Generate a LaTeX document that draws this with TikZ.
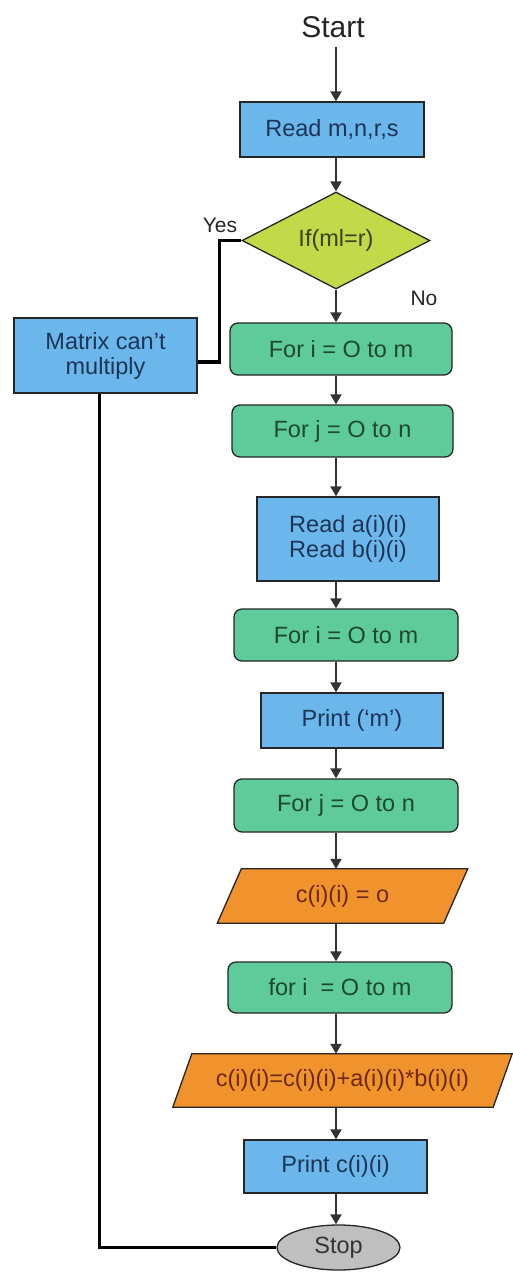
\documentclass[tikz,border=0pt]{standalone}
\usepackage{fontspec}
\setmainfont{Liberation Sans}
\usetikzlibrary{shapes.geometric,arrows.meta,backgrounds}
\definecolor{bluef}{HTML}{6BB6EA}
\definecolor{bluet}{HTML}{1C3557}
\definecolor{greenf}{HTML}{5FCB9B}
\definecolor{greent}{HTML}{1D4A2C}
\definecolor{yelf}{HTML}{C2D94A}
\definecolor{yelt}{HTML}{3A4212}
\definecolor{orf}{HTML}{F1932D}
\definecolor{ort}{HTML}{6E2A0E}
\definecolor{grayf}{HTML}{BFBFBF}
\begin{document}
\begin{tikzpicture}[x=1pt,y=-1pt,
  basebox/.style={draw=black!85, line width=1.3pt, inner sep=0pt, align=center,
    font=\fontsize{23.5}{25}\selectfont},
  procbox/.style={basebox, rectangle, fill=bluef, text=bluet},
  loopbox/.style={basebox, rectangle, rounded corners=8pt, fill=greenf, text=greent},
  decbox/.style={basebox, diamond, fill=yelf, text=yelt},
  iobox/.style={inner sep=0pt, align=center, text=ort,
    font=\fontsize{23.5}{25}\selectfont},
  iofill/.style={draw=black!85, line width=1.3pt, fill=orf},
  termbox/.style={basebox, ellipse, fill=grayf, text=black!80},
  lbl/.style={inner sep=0pt, text=black!85, font=\fontsize{21}{23}\selectfont},
  arr/.style={draw=black!80, line width=2pt, -{Triangle[length=10pt,width=11pt]}},
  link/.style={draw=black, line width=3.5pt}
]
\useasboundingbox (0,0) rectangle (513,1272);
\coordinate (ax) at (336,0);
\coordinate (vx) at (99.5,0);

\node[inner sep=0pt, font=\fontsize{30}{32}\selectfont, text=black!85] (start) at (333,27) {Start};
\node[procbox, minimum width=184pt, minimum height=55pt] (read) at (332,129.5) {Read m,n,r,s};
\node[decbox, minimum width=188pt, minimum height=93pt] (dec) at (336,240.5) {If(ml=r)};
\node[lbl] (yes) at (220,225) {Yes};
\node[lbl] (no) at (424,298) {No};
\node[procbox, minimum width=183pt, minimum height=75pt] (mat) at (105.5,355.5) {Matrix can't\\multiply};
\node[loopbox, minimum width=222pt, minimum height=52pt] (fi1) at (341,349) {For i = O to m};
\node[loopbox, minimum width=221pt, minimum height=52pt] (fj1) at (342.5,431) {For j = O to n};
\node[procbox, minimum width=182pt, minimum height=84pt] (rab) at (348,539) {Read a(i)(i)\\Read b(i)(i)};
\node[loopbox, minimum width=224pt, minimum height=52pt] (fi2) at (346,635) {For i = O to m};
\node[procbox, minimum width=182pt, minimum height=55pt] (pm) at (352,720.5) {Print (`m')};
\node[loopbox, minimum width=224pt, minimum height=53pt] (fj2) at (346,805.5) {For j = O to n};
\node[iobox, minimum width=226pt, minimum height=54pt] (co) at (342.5,896) {c(i)(i) = o};
\node[loopbox, minimum width=224pt, minimum height=51pt] (fi3) at (340,987.5) {for i \ = O to m};
\node[iobox, minimum width=320pt, minimum height=53pt] (cc) at (342.5,1080.5) {c(i)(i)=c(i)(i)+a(i)(i)*b(i)(i)};
\node[procbox, minimum width=183pt, minimum height=53pt] (pc) at (335.5,1166.5) {Print c(i)(i)};
\node[termbox, minimum width=123pt, minimum height=45pt] (stop) at (338.5,1247.5) {Stop};

\begin{scope}[on background layer]
\fill[white] (0,0) rectangle (513,1272);
\path[iofill] ([xshift=-12pt]co.south west) -- ([xshift=-12pt]co.south east)
  -- ([xshift=12pt]co.north east) -- ([xshift=12pt]co.north west) -- cycle;
\path[iofill] ([xshift=-9.5pt]cc.south west) -- ([xshift=-9.5pt]cc.south east)
  -- ([xshift=9.5pt]cc.north east) -- ([xshift=9.5pt]cc.north west) -- cycle;
\end{scope}

\draw[arr, shorten <=9pt] (start.south -| ax) -- (read.north -| ax);
\draw[arr] (read.south -| ax) -- (dec.north -| ax);
\draw[arr] (dec.south -| ax) -- (fi1.north -| ax);
\draw[arr] (fi1.south -| ax) -- (fj1.north -| ax);
\draw[arr] (fj1.south -| ax) -- (rab.north -| ax);
\draw[arr] (rab.south -| ax) -- (fi2.north -| ax);
\draw[arr] (fi2.south -| ax) -- (pm.north -| ax);
\draw[arr] (pm.south -| ax) -- (fj2.north -| ax);
\draw[arr] (fj2.south -| ax) -- (co.north -| ax);
\draw[arr] (co.south -| ax) -- (fi3.north -| ax);
\draw[arr] (fi3.south -| ax) -- (cc.north -| ax);
\draw[arr] (cc.south -| ax) -- (pc.north -| ax);
\draw[arr] (pc.south -| ax) -- (stop.north -| ax);

\draw[link] (dec.west) -- ++(-22,0) |- ([yshift=-6.5pt]mat.east);
\draw[link] (mat.south -| vx) |- (stop.west);
\end{tikzpicture}
\end{document}
